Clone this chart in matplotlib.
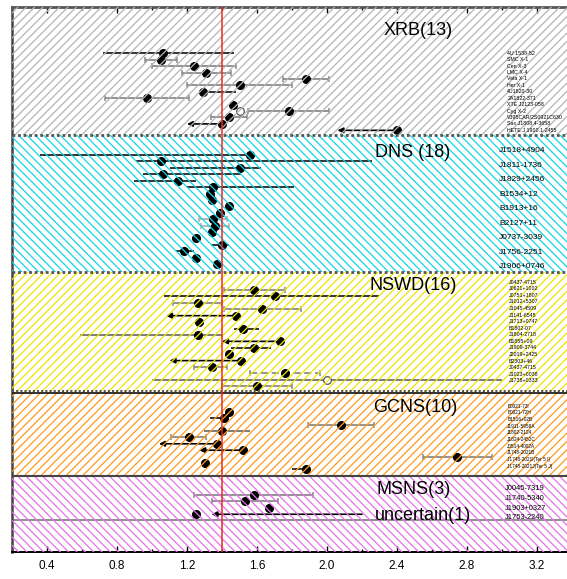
import numpy as np
import matplotlib
matplotlib.use("Agg")
import matplotlib.pyplot as plt
from matplotlib.ticker import MultipleLocator, FormatStrFormatter

plt.rcParams["font.family"] = ["Liberation Sans", "DejaVu Sans"]
plt.rcParams["hatch.linewidth"] = 0.9

# ---- data: neutron star masses (M_sun), lower / upper error, kind of bar ----
xrb_names = ["4U 1538-52", "SMC X-1", "Cen X-3", "LMC X-4", "Vela X-1", "Her X-1",
             "4U1820-30", "2A1822-371", "XTE J2123-058", "Cyg X-2",
             "V395CAR/2S0921C630", "Sax J1808.4-3658", "HETE J 1900.1-2455"]
xrb_mass = [1.06, 1.05, 1.24, 1.31, 1.88, 1.50, 1.29, 0.97, 1.46, 1.78, 1.44, 1.40, 2.40]
xrb_lo = [0.34, 0.09, 0.24, 0.14, 0.13, 0.30, 0.00, 0.24, 0.00, 0.23, 0.10, 0.20, 0.34]
xrb_hi = [0.41, 0.09, 0.24, 0.14, 0.13, 0.30, 0.19, 0.24, 0.00, 0.23, 0.10, 0.00, 0.00]
xrb_kind = ["line", "cap", "cap", "cap", "cap", "cap", "line", "cap", "none", "cap",
            "cap", "arrow", "arrow"]
xrb_open_row, xrb_open_mass = 9, 1.50

dns_names = ["J1518+4904", "J1811-1736", "J1829+2456", "B1534+12", "B1913+16",
             "B2127+11", "J0737-3039", "J1756-2251", "J1906+0746"]
dns_mass = [1.56, 1.05, 1.50, 1.06, 1.15, 1.35, 1.33, 1.34, 1.44, 1.39, 1.35, 1.36,
            1.34, 1.25, 1.40, 1.18, 1.25, 1.37]
dns_lo = [1.20, 0.14, 0.40, 0.11, 0.25, 0.15, 0, 0, 0, 0, 0.08, 0.08, 0, 0, 0.06, 0.04, 0, 0]
dns_hi = [0.00, 1.21, 0.12, 0.45, 0.10, 0.46, 0, 0, 0, 0, 0.08, 0.08, 0, 0, 0.04, 0.06, 0, 0]
dns_kind = ["line"] * 6 + ["none"] * 4 + ["lcap", "lcap"] + ["none"] * 2 + ["line", "line"] + ["none"] * 2

nswd_names = ["J0437-4715", "J0621+1002", "J0751+1807", "J1012+5307", "J1045-4509",
              "J1141-6545", "J1713+0747", "B1802-07", "J1804-2718", "B1855+09",
              "J1909-3744", "J2019+2425", "B2303+46", "J0437-4715", "J1023+0038",
              "J1738+0333"]
nswd_mass = [1.58, 1.70, 1.26, 1.63, 1.48, 1.27, 1.52, 1.26, 1.73, 1.58, 1.44, 1.51,
             1.34, 1.76, 2.00, 1.60]
nswd_lo = [0.17, 0.63, 0.14, 0.22, 0.40, 0, 0.05, 0.67, 0.33, 0.13, 0, 0.41, 0.10, 0.20, 1.00, 0.20]
nswd_hi = [0.18, 0.60, 0.14, 0.22, 0.00, 0, 0.09, 0.14, 0.00, 0.10, 0, 0.00, 0.09, 0.20, 1.00, 0.20]
nswd_kind = ["cap", "line", "cap", "cap", "arrow", "none", "line", "gline", "arrow", "line",
             "none", "arrow", "cap", "dash", "open", "cap"]

gcns_names = ["B0021-72I", "B0021-72H", "B1516+02B", "J1911-5958A", "J1802-2124",
              "J1824-2452C", "J0514-4002A", "J1748-2021B", "J1748-2021I(Ter 5 I)",
              "J1748-2021J(Ter 5 J)"]
gcns_mass = [1.44, 1.41, 2.08, 1.40, 1.21, 1.37, 1.52, 2.74, 1.30, 1.88]
gcns_lo = [0, 0.08, 0.19, 0.10, 0.10, 0.33, 0.25, 0.19, 0, 0.08]
gcns_hi = [0, 0.03, 0.19, 0.16, 0.10, 0.00, 0.00, 0.20, 0, 0.00]
gcns_kind = ["none", "line", "cap", "gline", "cap", "arrow", "arrow", "cap", "none", "line"]

msns_names = ["J0045-7319", "J1740-5340", "J1903+0327", "J1753-2240"]
msns_mass = [1.58, 1.53, 1.67, 1.25]
msns_lo = [0.34, 0.19, 0, 0]
msns_hi = [0.34, 0.19, 0, 0]
msns_kind = ["cap", "cap", "none", "none"]
unc_limit_from, unc_limit_to = 2.20, 1.34

# ---- layout (vertical units = pixels from the top of the axes) ----
row_step = 6.42
bands = [
    # label, top, bottom, first row, hatch, colour, label x, label y, names x, names y0, names step, names size
    ("XRB(13)", 0, 128, 46.3, "////", "#b4b4b4", 2.52, 24, 3.03, 46.3, 6.42, 3.8),
    ("DNS (18)", 128, 264.7, 148, "\\\\\\\\", "#11d6e6", 2.49, 146, 2.985, 143.7, 14.5, 6.0),
    ("NSWD(16)", 264.7, 385.7, 283, "////", "#f2e400", 2.49, 279, 3.04, 275.3, 6.56, 3.8),
    ("GCNS(10)", 385.7, 468.7, 404.7, "////", "#ff9a1c", 2.505, 400, 3.03, 399, 6.67, 3.4),
    ("MSNS(3)", 468.7, 545, 488, "\\\\\\\\", "#e672ec", 2.495, 483, 3.015, 482, 9.6, 5.4),
]
groups = [
    (xrb_names, xrb_mass, xrb_lo, xrb_hi, xrb_kind),
    (dns_names, dns_mass, dns_lo, dns_hi, dns_kind),
    (nswd_names, nswd_mass, nswd_lo, nswd_hi, nswd_kind),
    (gcns_names, gcns_mass, gcns_lo, gcns_hi, gcns_kind),
    (msns_names, msns_mass, msns_lo, msns_hi, msns_kind),
]

fig = plt.figure(figsize=(5.67, 5.79), dpi=100)
ax = fig.add_axes([12 / 567, 27 / 579, 560 / 567, 545 / 579])
ax.set_xlim(0.2, 3.4)
ax.set_ylim(545, 0)


def draw_arrow(x0, x1, y):
    ax.annotate("", xy=(x1, y), xytext=(x0, y),
                arrowprops=dict(arrowstyle="-|>", color="k", lw=1.2,
                                mutation_scale=8, shrinkA=0, shrinkB=0), zorder=2)


for band, grp in zip(bands, groups):
    label, top, bot, first, hatch, col, lx, ly, nx, ny0, nstep, nsize = band
    names, mass, lo, hi, kind = grp
    ax.axhspan(bot, top, facecolor="none", edgecolor=col, hatch=hatch, lw=0, zorder=3)
    ys = first + row_step * np.arange(len(mass))
    for m, l, h, k, y in zip(mass, lo, hi, kind, ys):
        if k in ("cap", "lcap", "dash"):
            c = "#b0b0b0" if k == "lcap" else "#8a8a8a"
            eb = ax.errorbar(m, y, xerr=[[l], [h]], fmt="none", ecolor=c, elinewidth=1.3,
                             capsize=2.5, capthick=1.1, zorder=2)
            if k == "dash":
                eb[2][0].set_linestyle((0, (4, 2)))
        elif k in ("line", "gline", "open"):
            c = "#333333" if k == "line" else "#7a7a7a"
            ax.errorbar(m, y, xerr=[[l], [h]], fmt="none", ecolor=c, elinewidth=1.4,
                        capsize=0, zorder=2)
        elif k == "arrow":
            draw_arrow(m, m - l, y)
        if k == "open":
            ax.plot(m, y, "o", mfc="white", mec="#555555", mew=0.9, ms=5.5, zorder=2.5)
        else:
            ax.plot(m, y, "o", color="k", ms=5.5, zorder=2.5)
    ax.text(lx, ly, label, ha="center", va="center", fontsize=13, zorder=6)
    for i, nm in enumerate(names):
        ax.text(nx, ny0 + i * nstep, nm, ha="left", va="center", fontsize=nsize, zorder=6)

# extra markers
ax.plot(xrb_open_mass, bands[0][3] + xrb_open_row * row_step, "o", mfc="white",
        mec="#555555", mew=0.9, ms=5.5, zorder=2.5)
unc_y = bands[4][3] + 3 * row_step
draw_arrow(unc_limit_from, unc_limit_to, unc_y)
ax.text(2.55, 509, "uncertain(1)", ha="center", va="center", fontsize=13, zorder=6)
ax.axhline(513, color="#7a7a7a", lw=1.2, zorder=2)

# band borders
ax.axhline(128, color="#555555", lw=2, ls=(0, (1, 1)), zorder=4)
ax.axhline(264.7, color="#555555", lw=2, ls=(0, (1, 1)), zorder=4)
ax.axhline(384, color="#555555", lw=1.5, ls=(0, (1, 1)), zorder=4)
ax.axhline(385.7, color="#222222", lw=1.3, zorder=4)
ax.axhline(468.7, color="#444444", lw=1.5, zorder=4)

# reference mass
ax.axvline(1.4, color="#ee2a1e", lw=1.1, zorder=5)

# axes styling
ax.spines["right"].set_visible(False)
ax.spines["left"].set_color("#444444")
ax.spines["left"].set_linewidth(1.8)
ax.spines["top"].set_color("#555555")
ax.spines["top"].set_linewidth(2)
ax.spines["bottom"].set_linewidth(1.4)
ax.set_yticks([])
ax.xaxis.set_major_locator(MultipleLocator(0.4))
ax.xaxis.set_minor_locator(MultipleLocator(0.2))
ax.xaxis.set_major_formatter(FormatStrFormatter("%.1f"))
ax.tick_params(axis="x", which="both", direction="in", top=True, labelsize=8.5, pad=6)
ax.tick_params(axis="x", which="major", length=4.5, width=1)
ax.tick_params(axis="x", which="minor", length=2.5, width=1)

fig.savefig("out.png", dpi=100)
